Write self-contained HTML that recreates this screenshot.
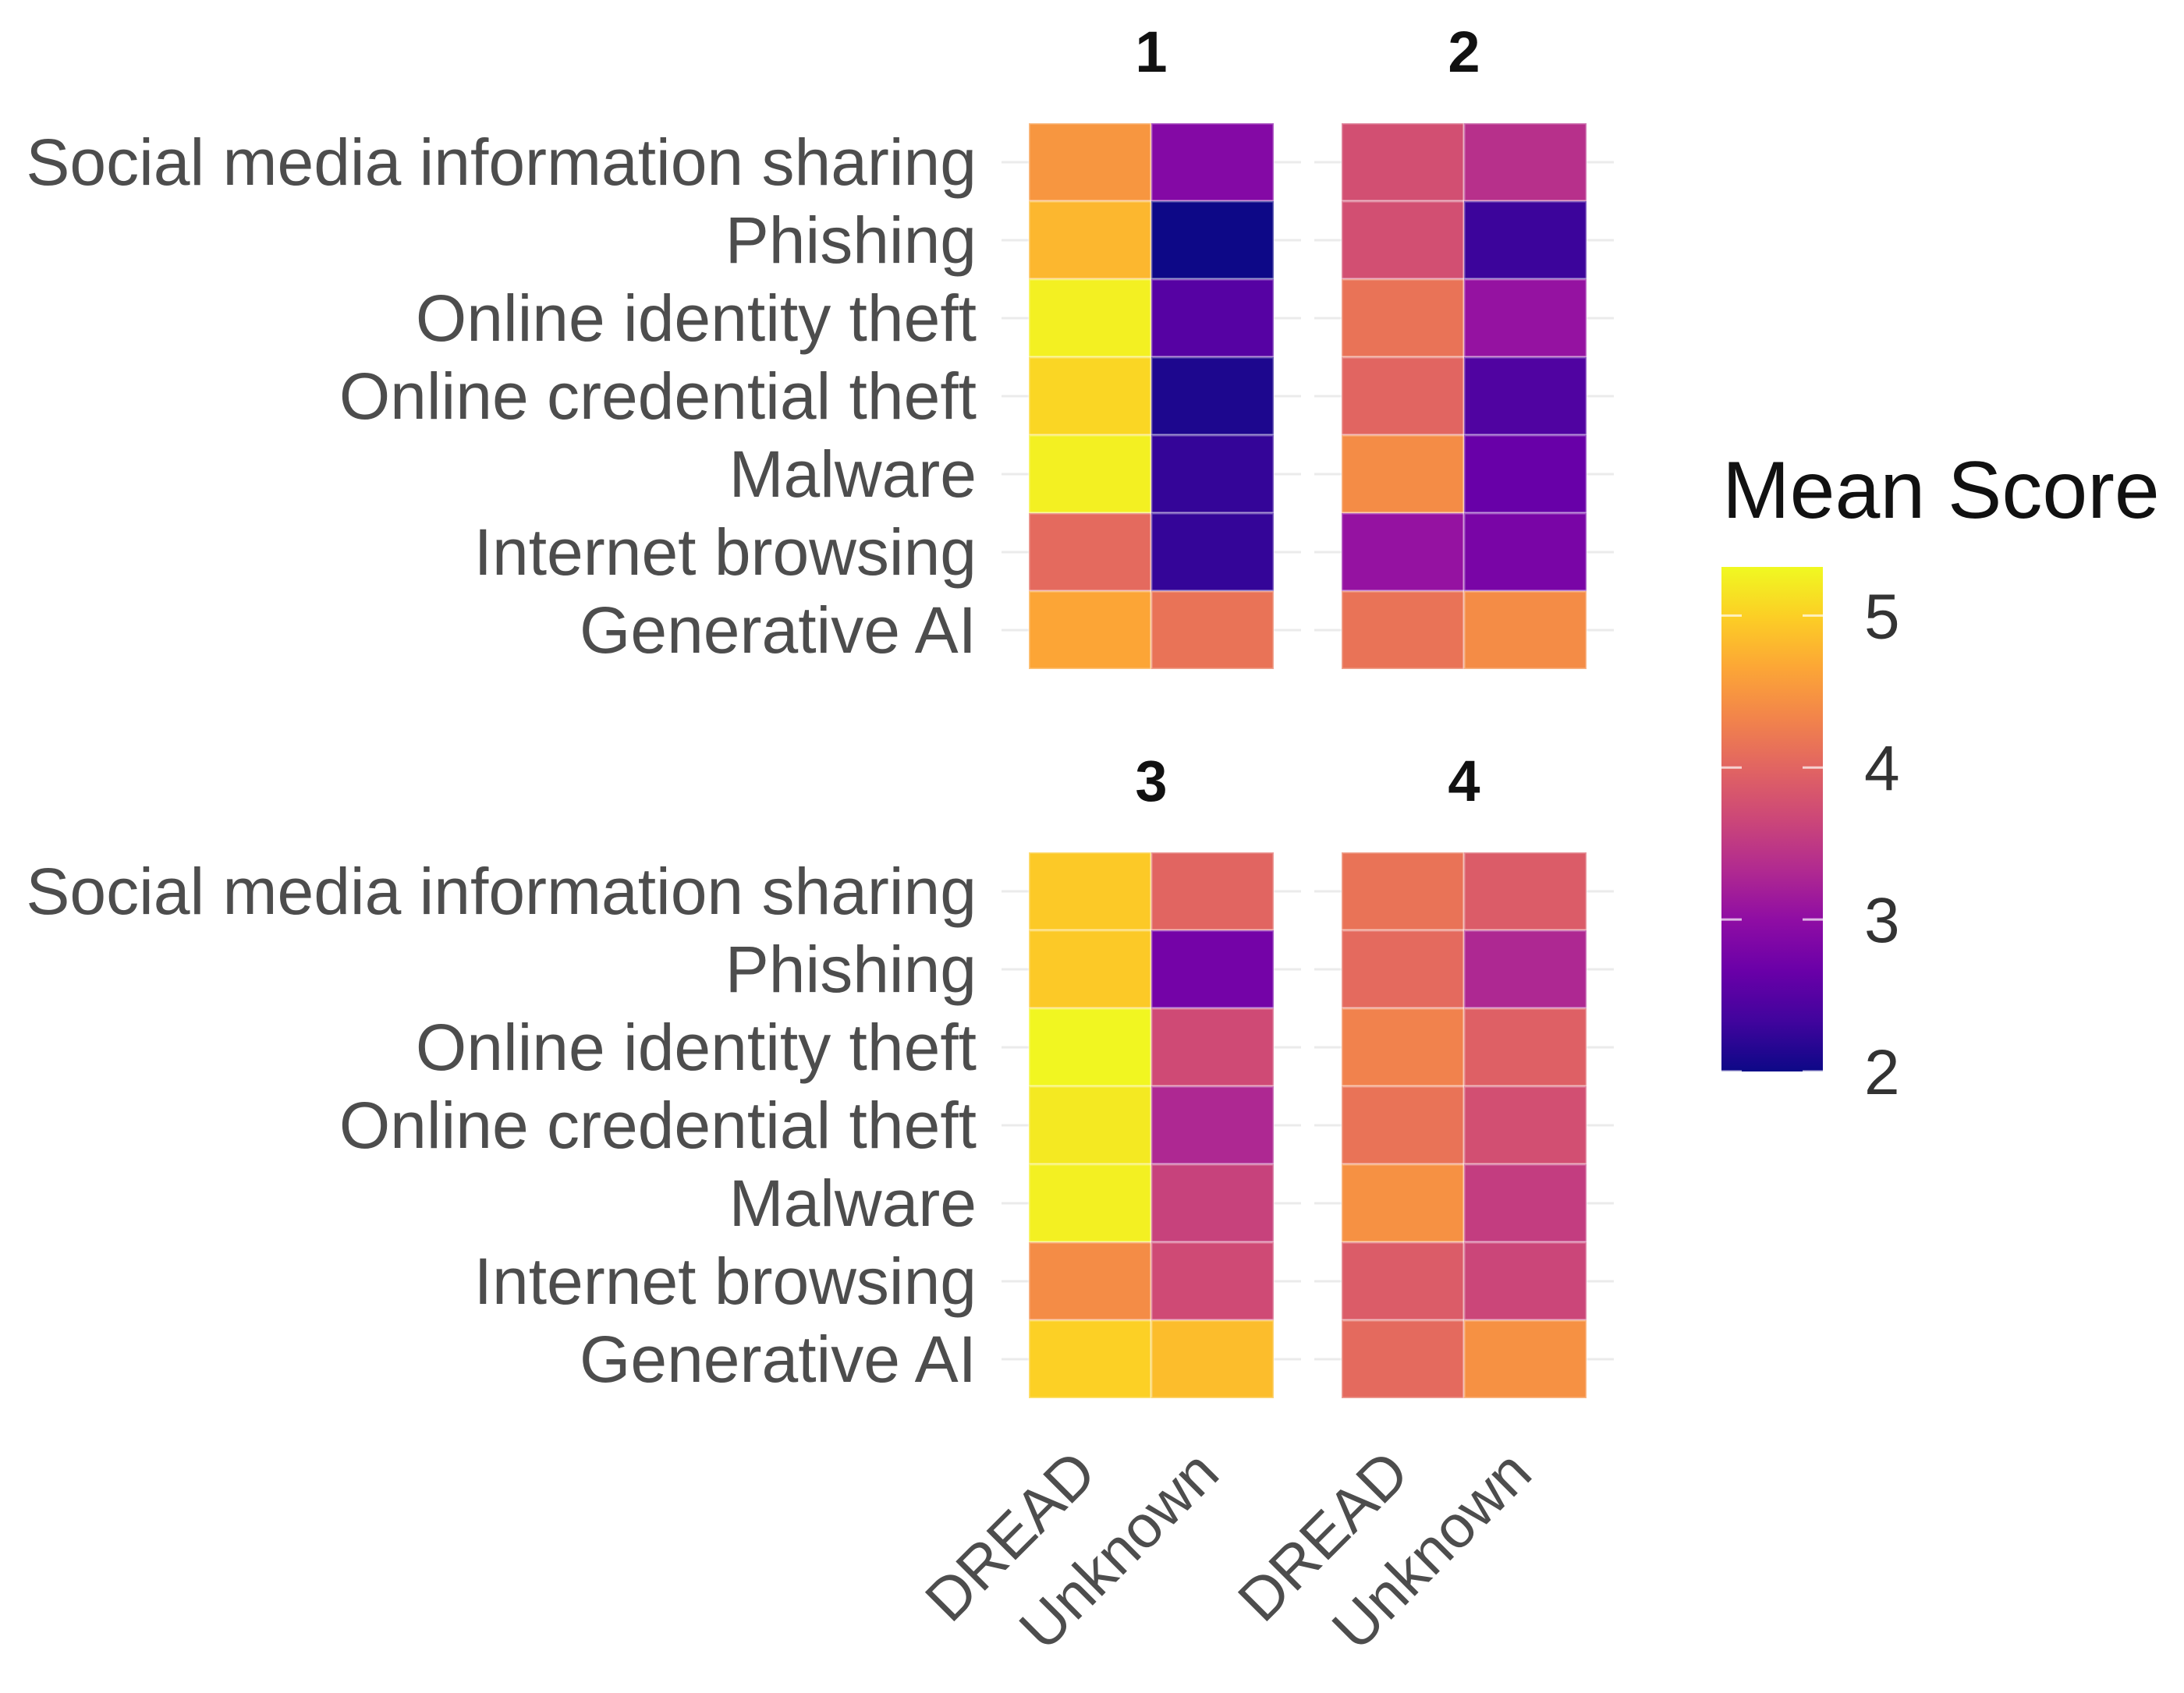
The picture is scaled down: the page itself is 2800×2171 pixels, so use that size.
<!DOCTYPE html>
<html><head><meta charset="utf-8"><style>
html,body{margin:0;padding:0;background:#fff;}
svg{display:block;font-family:"Liberation Sans",sans-serif;}
</style></head><body>
<svg id="chart" width="2800" height="2171" viewBox="0 0 2800 2171">
<g id="plots"></g>
<g id="legend"></g>
</svg>
<script>
const categories = ["Social media information sharing","Phishing","Online identity theft","Online credential theft","Malware","Internet browsing","Generative AI"];
const methods = ["DREAD","Unknown"];
const panelTitles = ["1","2","3","4"];
const p1Dread = [4.5,4.8,5.25,5.05,5.25,4.05,4.65];
const p1Unknown = [2.9,2.0,2.5,2.1,2.25,2.25,4.15];
const p2Dread = [3.75,3.75,4.15,4.0,4.4,3.05,4.15];
const p2Unknown = [3.4,2.3,3.05,2.45,2.65,2.8,4.4];
const p3Dread = [4.95,4.95,5.3,5.2,5.25,4.4,5.0];
const p3Unknown = [4.0,2.75,3.7,3.3,3.6,3.7,4.85];
const p4Dread = [4.15,4.05,4.3,4.15,4.45,3.9,4.05];
const p4Unknown = [3.9,3.3,3.95,3.75,3.55,3.65,4.45];
const legendTicks = [2,3,4,5];
const colorMin = 2.0, colorMax = 5.32;

const NS="http://www.w3.org/2000/svg";
const plasma=["#0d0887","#41049d","#6a00a8","#8f0da4","#b12a90","#cc4778","#e16462","#f2844b","#fca636","#fcce25","#f0f921"];
function hex(h){return [1,3,5].map(i=>parseInt(h.substr(i,2),16));}
function color(v){let t=(v-colorMin)/(colorMax-colorMin);t=Math.max(0,Math.min(1,t));const p=t*10,i=Math.min(9,Math.floor(p)),f=p-i;const a=hex(plasma[i]),b=hex(plasma[i+1]);return "rgb("+a.map((c,k)=>Math.round(c+(b[k]-c)*f)).join(",")+")";}
function mk(tag,attrs,parent){const e=document.createElementNS(NS,tag);for(const k in attrs)e.setAttribute(k,attrs[k]);parent.appendChild(e);return e;}

const panelX=[1319,1720], panelY=[158,1093], cellW=157, cellH=100;
const data=[[p1Dread,p1Unknown],[p2Dread,p2Unknown],[p3Dread,p3Unknown],[p4Dread,p4Unknown]];
const plots=document.getElementById('plots');
function xPos(panel,m){return panelX[panel%2]+m*cellW;}
function yPos(panel,r){return panelY[Math.floor(panel/2)]+r*cellH;}

data.forEach((series,p)=>{
  const g=mk('g',{},plots);
  
  
  const x0=xPos(p,0), y0=yPos(p,0);
  for(let r=0;r<categories.length;r++){
    const l=mk('line',{x1:x0-35,x2:x0+2*cellW+35,y1:y0+r*cellH+cellH/2,y2:y0+r*cellH+cellH/2,stroke:"#ebebeb","stroke-width":3},g);
    
    
  }
  series.forEach((vals,m)=>{
    vals.forEach((v,r)=>{
      const c=mk('rect',{x:xPos(p,m),y:yPos(p,r),width:cellW,height:cellH,fill:color(v),stroke:"rgba(255,255,255,0.35)","stroke-width":3},g);
      
      
    });
  });
  const t=mk('text',{x:x0+cellW,y:y0-66,"text-anchor":"middle","font-size":74,"font-weight":"bold",fill:"#111"},g);
  t.textContent=panelTitles[p];
  
  
  if(p%2===0){
    categories.forEach((c,r)=>{
      const tx=mk('text',{x:1252,y:yPos(p,r)+cellH/2+29,"text-anchor":"end","font-size":84,fill:"#4d4d4d"},g);
      tx.textContent=c;
      
      
    });
  }
  if(p>=2){
    methods.forEach((mname,m)=>{
      const cx=xPos(p,m)+cellW/2+12, cy=1893;
      const tx=mk('text',{x:cx,y:cy,"text-anchor":"end","font-size":77,fill:"#4d4d4d",transform:"rotate(-45 "+cx+" "+cy+")"},g);
      tx.textContent=mname;
      
      
    });
  }
});

const lg=document.getElementById('legend');
const lx=2207, lw=130, ly0=727, ly1=1374;
function ly(v){return ly1-(v-colorMin)/(colorMax-colorMin)*(ly1-ly0);}
const defs=mk('defs',{},lg);
const grad=mk('linearGradient',{id:"grad",x1:0,y1:1,x2:0,y2:0},defs);
plasma.forEach((c,i)=>mk('stop',{offset:(i*10)+"%","stop-color":c},grad));
const bar=mk('rect',{x:lx,y:ly0,width:lw,height:ly1-ly0,fill:"url(#grad)"},lg);


const title=mk('text',{x:2208,y:664,"font-size":104,fill:"#111"},lg);
title.textContent="Mean Score";


legendTicks.forEach(v=>{
  const y=ly(v);
  mk('line',{x1:lx,x2:lx+26,y1:y,y2:y,stroke:"rgba(255,255,255,0.7)","stroke-width":3},lg);
  mk('line',{x1:lx+lw-26,x2:lx+lw,y1:y,y2:y,stroke:"rgba(255,255,255,0.7)","stroke-width":3},lg);
  const t=mk('text',{x:2390,y:y+29,"font-size":82,fill:"#333"},lg);
  t.textContent=v;
  
  
});
</script>
</body></html>
